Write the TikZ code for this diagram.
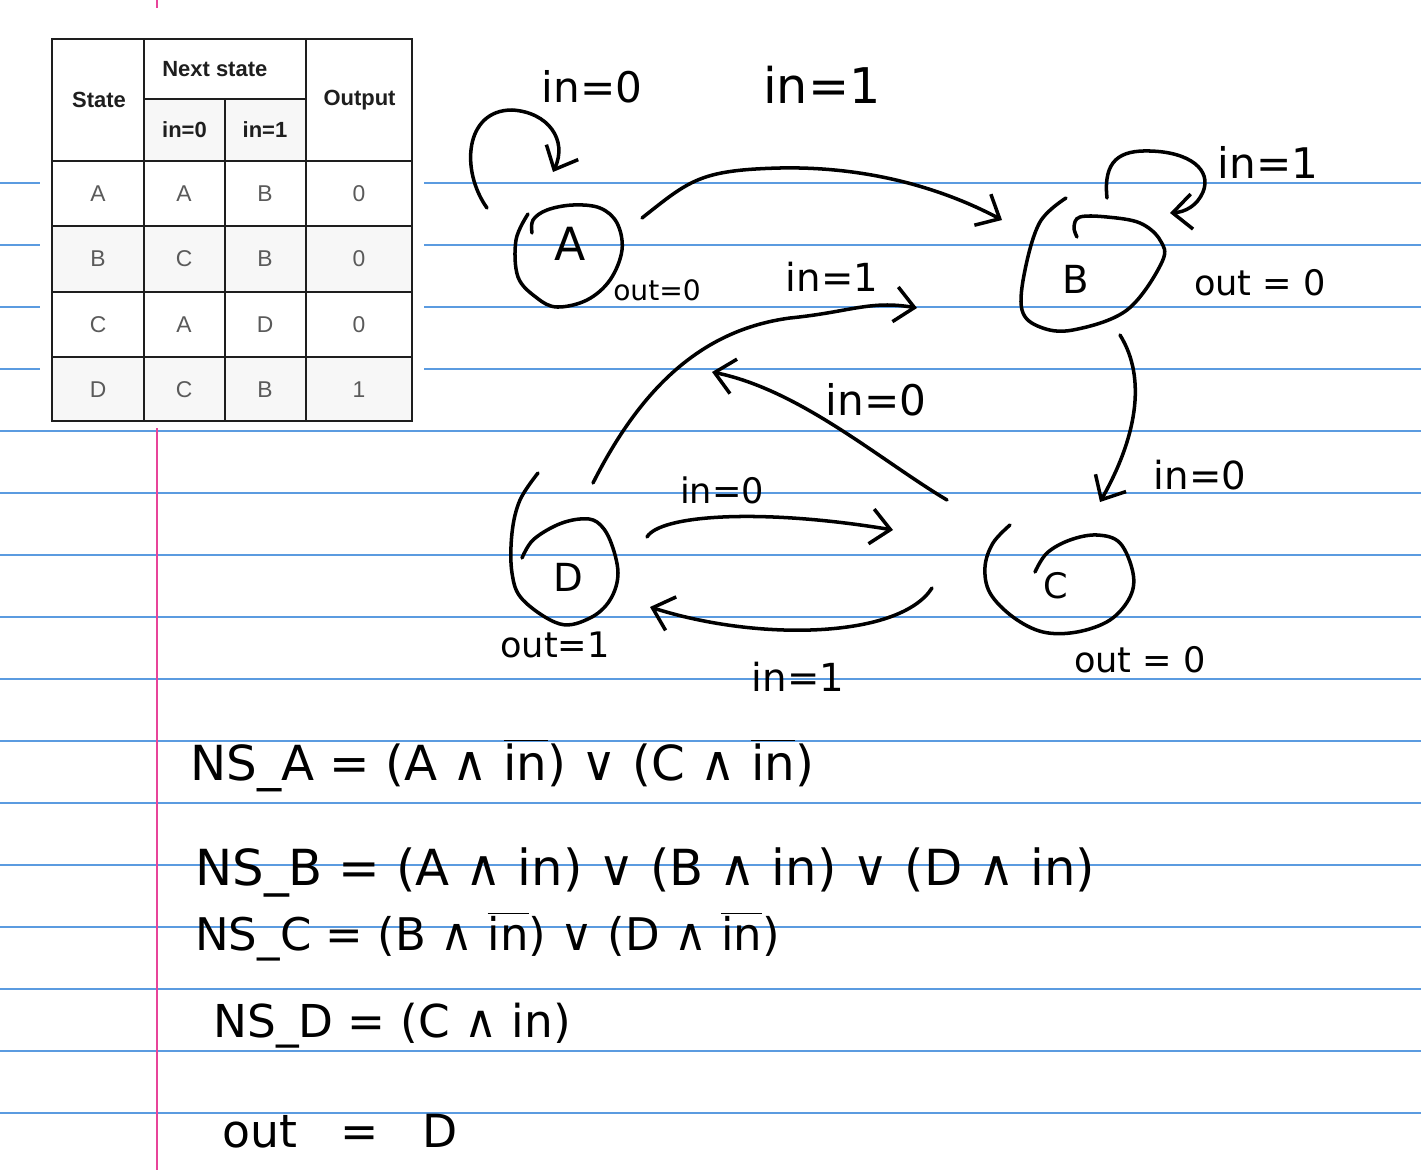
\documentclass[tikz,border=0pt]{standalone}
\usepackage{fontspec}
\setmainfont{Liberation Sans}
\newfontfamily\hand{DejaVu Sans}
\usetikzlibrary{arrows.meta,shapes.geometric}
\definecolor{ruleblue}{HTML}{5B9BE0}
\definecolor{marginpink}{HTML}{E8449A}
\definecolor{cellgray}{HTML}{F7F7F7}
\definecolor{tabtext}{HTML}{5A5A5A}
\definecolor{tabhead}{HTML}{1E1E1E}
\begin{document}
\begin{tikzpicture}[x=0.02cm,y=-0.02cm,
  pen/.style={line width=2pt,line cap=round,line join=round},
  arr/.style={pen,-{Straight Barb[length=11pt,width=20pt]}},
  statebox/.style={ellipse,draw=none,inner sep=0pt},
  hw/.style={font={\hand\fontsize{#1}{#1}\selectfont},inner sep=0pt},
  eqn/.style={font={\hand\fontsize{#1}{#1}\selectfont},inner sep=0pt,anchor=base west},
  ruled/.style={draw=ruleblue,line width=0.8pt},
  grid/.style={draw=tabhead,line width=1.1pt},
  th/.style={font={\bfseries\fontsize{12.5}{14}\selectfont},text=tabhead,inner sep=0pt},
  td/.style={font={\fontsize{13}{15}\selectfont},text=tabtext,inner sep=0pt}
]
\useasboundingbox (0,0) rectangle (1421,1170);
\fill[white] (0,0) rectangle (1421,1170);
% notebook rules
\foreach \yy in {183,245,...,1113} \draw[ruled] (0,\yy) -- (1421,\yy);
\draw[draw=marginpink,line width=1.1pt] (157,0) -- (157,1170);
% table overlay
\fill[white] (40,8) rectangle (424,428);
\fill[cellgray] (144,99) rectangle (306,161);
\fill[cellgray] (52,226) rectangle (412,292);
\fill[cellgray] (52,357) rectangle (412,421);
\draw[grid] (52,39) rectangle (412,421);
\draw[grid] (144,39) -- (144,421);
\draw[grid] (306,39) -- (306,421);
\draw[grid] (225,99) -- (225,421);
\draw[grid] (144,99) -- (306,99);
\foreach \yy in {161,226,292,357} \draw[grid] (52,\yy) -- (412,\yy);
\node[th] (hState) at (99,100) {State};
\node[th,anchor=west] (hNext) at (162,69) {Next state};
\node[th] (hIn0) at (184.5,130) {in=0};
\node[th] (hIn1) at (265,130) {in=1};
\node[th] (hOut) at (359.5,100) {Output};
\foreach \r/\yy/\s/\a/\b/\o in {1/193.5/A/A/B/0, 2/259/B/C/B/0, 3/324.5/C/A/D/0, 4/389.5/D/C/B/1}{
  \node[td] (s\r) at (98,\yy) {\s};
  \node[td] (a\r) at (184,\yy) {\a};
  \node[td] (b\r) at (265,\yy) {\b};
  \node[td] (o\r) at (359,\yy) {\o};
}
% states (named regions) and their hand-drawn outlines
\node[statebox,minimum width=108*0.02cm,minimum height=100*0.02cm] (A) at (567,256) {};
\node[statebox,minimum width=140*0.02cm,minimum height=125*0.02cm] (B) at (1092,270) {};
\node[statebox,minimum width=106*0.02cm,minimum height=150*0.02cm] (D) at (565,550) {};
\node[statebox,minimum width=148*0.02cm,minimum height=107*0.02cm] (C) at (1060,580) {};
\draw[pen] plot[smooth,tension=0.6] coordinates {(528,214) (516,240) (518,277) (537,298) (557,307) (587,300) (610,280) (622,250) (617,223) (600,208) (573,205) (547,210) (533,220) (532,233)};
\draw[pen] plot[smooth,tension=0.6] coordinates {(1066,198) (1040,222) (1025,270) (1022,310) (1040,327) (1073,330) (1127,310) (1162,262) (1160,240) (1140,223) (1107,217) (1080,217) (1074,227) (1077,237)};
\draw[pen] plot[smooth,tension=0.6] coordinates {(522,558) (533,540) (557,525) (580,519) (597,522) (610,540) (618,573) (610,600) (590,618) (560,624) (523,600) (512,573) (512,533) (520,500) (538,473)};
\draw[pen] plot[smooth,tension=0.6] coordinates {(1035,572) (1047,553) (1070,540) (1097,535) (1120,543) (1133,573) (1130,597) (1110,620) (1077,632) (1043,632) (1013,617) (990,593) (985,567) (993,543) (1010,525)};
\node[hw=26] (lA) at (570,244) {A};
\node[hw=22] (lB) at (1076,279) {B};
\node[hw=22] (lD) at (568,577) {D};
\node[hw=20] (lC) at (1056,586) {C};
% output labels
\node[hw=16] (oA) at (657,290) {out=0};
\node[hw=20] (oB) at (1260,283) {out = 0};
\node[hw=20] (oD) at (555,645) {out=1};
\node[hw=20] (oC) at (1140,660) {out = 0};
% transitions
\coordinate (aa0) at (487,208);
\coordinate (aa1) at (553,172);
\draw[arr] (aa0) .. controls (460,170) and (465,110) .. (512,110) .. controls (548,112) and (568,140) .. (aa1);
\node[hw=24] (tAA) at (592,87) {in=0};

\coordinate (ab0) at (642,218);
\coordinate (ab1) at (1002,220);
\draw[arr] (ab0) .. controls (690,180) and (700,170) .. (780,168) .. controls (880,166) and (955,195) .. (ab1);
\node[hw=28] (tAB) at (822,85) {in=1};

\coordinate (bb0) at (1107,198);
\coordinate (bb1) at (1170,213);
\draw[arr] (bb0) .. controls (1103,160) and (1120,150) .. (1150,151) .. controls (1190,152) and (1212,170) .. (1203,192) .. controls (1197,206) and (1185,212) .. (bb1);
\node[hw=24] (tBB) at (1268,162) {in=1};

\coordinate (bc0) at (1120,335);
\coordinate (bc1) at (1100,502);
\draw[arr] (bc0) .. controls (1148,380) and (1135,440) .. (bc1);
\node[hw=22] (tBC) at (1200,475) {in=0};

\coordinate (db0) at (593,483);
\coordinate (db1) at (917,308);
\draw[arr] (db0) .. controls (640,390) and (700,330) .. (790,318) .. controls (850,312) and (870,300) .. (db1);
\node[hw=22] (tDB) at (832,277) {in=1};

\coordinate (ca0) at (947,500);
\coordinate (ca1) at (712,372);
\draw[arr] (ca0) .. controls (880,460) and (800,390) .. (ca1);
\node[hw=24] (tCA) at (876,400) {in=0};

\coordinate (dc0) at (647,537);
\coordinate (dc1) at (893,530);
\draw[arr] (dc0) .. controls (660,515) and (760,508) .. (dc1);
\node[hw=20] (tDC) at (722,490) {in=0};

\coordinate (cd0) at (932,588);
\coordinate (cd1) at (650,607);
\draw[arr] (cd0) .. controls (900,638) and (760,642) .. (cd1);
\node[hw=22] (tCD) at (798,677) {in=1};
% equations
\node[eqn=27.5] (eqA) at (190,780) {NS\_A = (A ∧ $\overline{\hbox{in}}$) ∨ (C ∧ $\overline{\hbox{in}}$)};
\node[eqn=28.3] (eqB) at (195,885) {NS\_B = (A ∧ in) ∨ (B ∧ in) ∨ (D ∧ in)};
\node[eqn=25.6] (eqC) at (195,950) {NS\_C = (B ∧ $\overline{\hbox{in}}$) ∨ (D ∧ $\overline{\hbox{in}}$)};
\node[eqn=25.8] (eqD) at (213,1037) {NS\_D = (C ∧ in)};
\node[eqn=26] (eqO) at (222,1147) {out \ \ = \ \ D};
\end{tikzpicture}
\end{document}
